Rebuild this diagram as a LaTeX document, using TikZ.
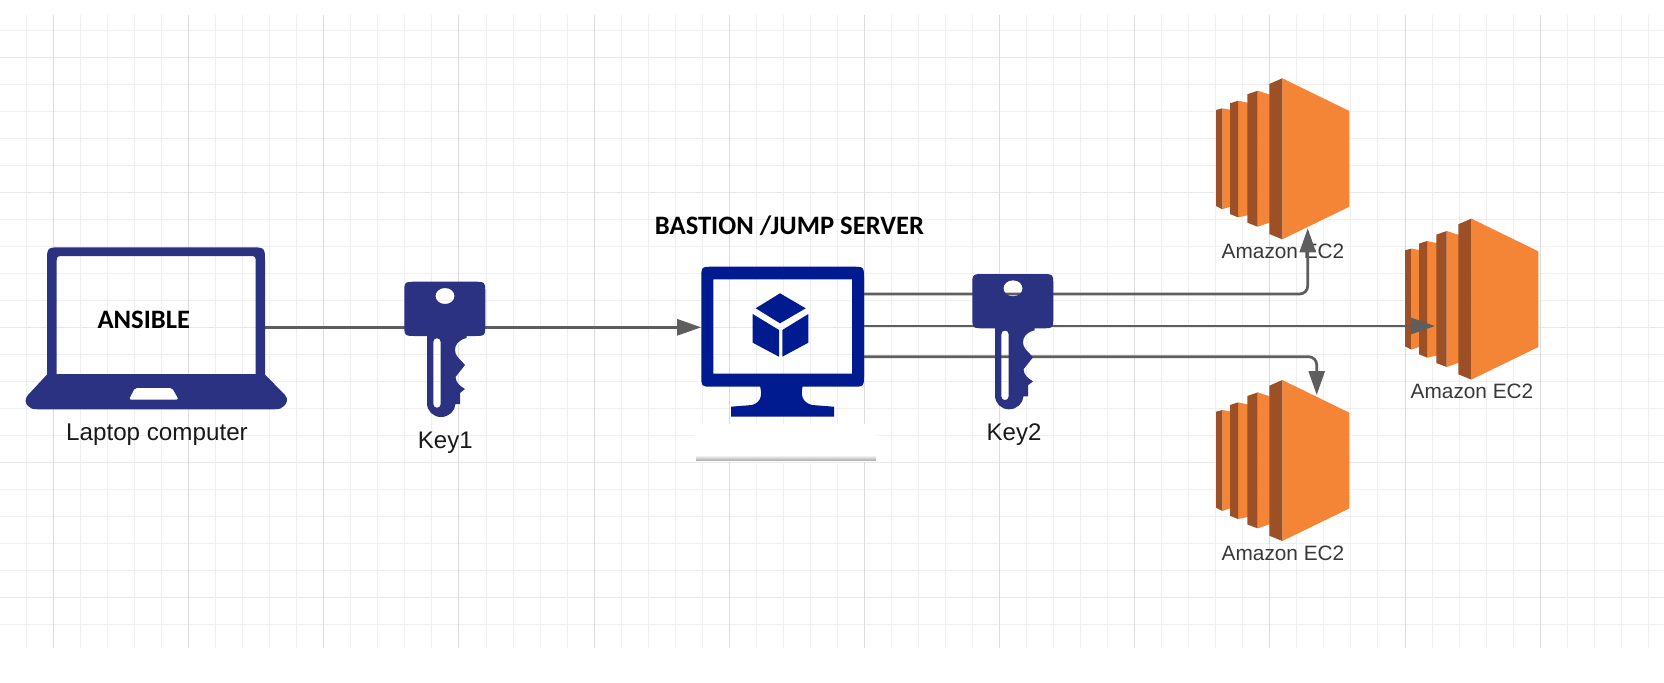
\documentclass[tikz,border=0pt]{standalone}
\usepackage{fontspec}
\setmainfont{Liberation Sans}
\newfontfamily\boldcal[BoldFont={Carlito Bold}]{Carlito}
\usetikzlibrary{arrows.meta}
\definecolor{navy}{HTML}{2A3281}
\definecolor{deepblue}{HTML}{001A8F}
\definecolor{ecl}{HTML}{F58536}
\definecolor{ecd}{HTML}{9D5025}
\definecolor{conn}{HTML}{5E5E5E}
\definecolor{gridmin}{HTML}{EFEFEF}
\definecolor{gridmaj}{HTML}{DCDCDC}
\definecolor{gridmajh}{HTML}{E8E8E8}
\tikzset{
  anchorbox/.style={inner sep=0pt,outer sep=0pt,draw=none},
  connector/.style={draw=conn,line width=1.35pt,rounded corners=4pt,
    -{Triangle[length=12pt,width=8pt,fill=conn]}},
  lbl/.style={anchor=base,inner sep=0pt,text=black!90},
  eclbl/.style={anchor=base,inner sep=0pt,text=black!78,font=\fontsize{10.4}{12}\selectfont},
  headlbl/.style={anchor=base,inner sep=0pt,text=black,font=\boldcal\bfseries\fontsize{13.3}{16}\selectfont},
}
\newcommand{\keyicon}{%
  \fill[navy,even odd rule]
    (416.3,281.7) -- (473.3,281.7) .. controls (485.3,281.7) .. (485.3,293.7)
    -- (485.3,324) .. controls (485.3,336) .. (473.3,336)
    -- (416.3,336) .. controls (404.3,336) .. (404.3,324)
    -- (404.3,293.7) .. controls (404.3,281.7) .. (416.3,281.7) -- cycle
    (445,288) .. controls (451,288) and (454.5,292) .. (454.5,296)
      .. controls (454.5,300) and (451,304) .. (445,304)
      .. controls (439,304) and (435.5,300) .. (435.5,296)
      .. controls (435.5,292) and (439,288) .. (445,288) -- cycle;
  \fill[navy,even odd rule]
    (427,335) -- (466.7,335) -- (466.7,338)
    .. controls (458,340) and (455,345) .. (455,350)
    .. controls (455,356) and (459,358) .. (465,365)
    -- (455.5,377)
    .. controls (456,383) and (460,386) .. (465,389)
    -- (460,393) -- (460,404) -- (455.5,404)
    .. controls (455,411) and (449,417) .. (441,417)
    .. controls (433,417) and (427,411) .. (427,403) -- cycle
    (433.3,342) .. controls (433.3,337) and (440.7,337) .. (440.7,342)
    -- (440.7,404) .. controls (440.7,409) and (433.3,409) .. (433.3,404) -- cycle;
}
\newcommand{\ecicon}{%
  \fill[ecl] (1222.3,108.3) -- (1232,110) -- (1232,206) -- (1222.3,209.3) -- cycle;
  \fill[ecd] (1216,110) -- (1222.3,108.3) -- (1222.3,209.3) -- (1216,206) -- cycle;
  \fill[ecl] (1238,100.7) -- (1249,103) -- (1249,215) -- (1238,217.3) -- cycle;
  \fill[ecd] (1230,103.3) -- (1238,100.7) -- (1238,217.3) -- (1230,214) -- cycle;
  \fill[ecl] (1257.7,90.7) -- (1271,95) -- (1271,222) -- (1257.7,226.7) -- cycle;
  \fill[ecd] (1247.3,94.3) -- (1257.7,90.7) -- (1257.7,226.7) -- (1247.3,222.7) -- cycle;
  \fill[ecl] (1282.3,78.3) -- (1349.3,111) -- (1349.3,206.7) -- (1282.3,239.3) -- cycle;
  \fill[ecd] (1269.3,84) -- (1282.3,78.3) -- (1282.3,239.3) -- (1269.3,234) -- cycle;
}
\begin{document}
\begin{tikzpicture}[x=0.5pt,y=-0.5pt]
\useasboundingbox (0,0) rectangle (1664,682);
\fill[white] (0,0) rectangle (1664,682);
% grid
\foreach \k in {0,...,22}{
  \pgfmathsetmacro{\yy}{floor(30.5+27*\k)+0.5}
  \pgfmathtruncatemacro{\mm}{mod(\k,5)}
  \ifnum\mm=1 \draw[gridmajh,line width=0.6pt] (0,\yy) -- (1664,\yy);
  \else \draw[gridmin,line width=0.5pt] (0,\yy) -- (1664,\yy); \fi
}
\foreach \k in {0,...,60}{
  \pgfmathsetmacro{\xx}{floor(26.5+27.03*\k)+0.5}
  \pgfmathtruncatemacro{\mm}{mod(\k,5)}
  \ifnum\mm=1 \draw[gridmaj,line width=0.6pt] (\xx,15) -- (\xx,648);
  \else \draw[gridmin,line width=0.5pt] (\xx,15) -- (\xx,648); \fi
}
% white patch below the monitor
\fill[white] (702,424) rectangle (865,436);
\fill[white] (695,435) rectangle (876,462);
\shade[top color=white,bottom color=black!30] (696,455) rectangle (876,460);
% anchor nodes
\node[anchorbox,minimum width=109pt,minimum height=60pt] (laptop) at (156,327.3) {};
\node[anchorbox,minimum width=81.5pt,minimum height=60pt] (monitor) at (782.7,327.3) {};
\coordinate (outA) at (864,294);
\coordinate (outB) at (864,326);
\coordinate (outC) at (864,356.7);
\coordinate (cornerA) at (1307.7,294);
\coordinate (tipA) at (1307.7,228.3);
\coordinate (tipB) at (1435,326);
\coordinate (cornerC) at (1316.7,356.7);
\coordinate (tipC) at (1316.7,395);
% EC2 icons
\ecicon
\begin{scope}[shift={(189,140.3)}]\ecicon\end{scope}
\begin{scope}[shift={(0,301.7)}]\ecicon\end{scope}
\node[eclbl] (lblA) at (1283,258.3) {Amazon EC2};
\node[eclbl] (lblB) at (1472,398.7) {Amazon EC2};
\node[eclbl] (lblC) at (1283,560) {Amazon EC2};
% connectors
\draw[connector] (laptop.east) -- (monitor.west);
\draw[connector] (outA) -- (cornerA) -- (tipA);
\draw[connector] (outB) -- (tipB);
\draw[connector] (outC) -- (cornerC) -- (tipC);
% keys
\keyicon
\begin{scope}[shift={(568,-7.7)}]\keyicon\end{scope}
% laptop
\fill[navy,even odd rule]
  (47,380) -- (47,262) .. controls (47,247.3) .. (62,247.3)
  -- (250,247.3) .. controls (265,247.3) .. (265,262) -- (265,380) -- cycle
  (56.7,374) -- (56.7,263) .. controls (56.7,256) .. (63.7,256)
  -- (248.7,256) .. controls (255.7,256) .. (255.7,263) -- (255.7,374) -- cycle;
\fill[navy]
  (47.5,374) -- (264.5,374) -- (285,395)
  .. controls (288.5,399) and (287,403) .. (284,406)
  .. controls (282,408.5) and (279,409.3) .. (274,409.3)
  -- (38,409.3)
  .. controls (33,409.3) and (30,408.5) .. (28,406)
  .. controls (25,403) and (24.5,399) .. (28,395) -- cycle;
\fill[white,rounded corners=1pt]
  (135,388) -- (172,388) -- (178.5,399.5) -- (129,399.5) -- cycle;
% monitor
\fill[deepblue,even odd rule]
  (713.3,266.7) -- (852,266.7) .. controls (864,266.7) .. (864,278.7)
  -- (864,374.7) .. controls (864,386.7) .. (852,386.7)
  -- (713.3,386.7) .. controls (701.3,386.7) .. (701.3,374.7)
  -- (701.3,278.7) .. controls (701.3,266.7) .. (713.3,266.7) -- cycle
  (713.3,279.3) -- (852,279.3) -- (852,373.7) -- (713.3,373.7) -- cycle;
\fill[deepblue]
  (760,386) .. controls (762,394) and (762,402) .. (752,405) -- (731,406.7) -- (731,416.7) -- (834,416.7)
  -- (834,406.7) -- (812,405) .. controls (801,402) and (801,394) .. (802.7,386) -- cycle;
\fill[deepblue] (780,293.3) -- (805.7,308.3) -- (780,323.3) -- (755.7,308.3) -- cycle;
\fill[deepblue] (752.7,314) -- (779,330) -- (779,356.7) -- (752.7,342.7) -- cycle;
\fill[deepblue] (808.3,314) -- (782.3,330) -- (782.3,356.7) -- (808.3,342.7) -- cycle;
% labels
\node[headlbl] (ansible) at (143.8,328.3) {ANSIBLE};
\node[headlbl] (bastion) at (789.5,234) {BASTION /JUMP SERVER};
\node[lbl,font=\fontsize{12.1}{14}\selectfont] (lap) at (157,440) {Laptop computer};
\node[lbl,font=\fontsize{12}{14}\selectfont] (k1) at (445.3,448.3) {Key1};
\node[lbl,font=\fontsize{12}{14}\selectfont] (k2) at (1014,440.7) {Key2};
\end{tikzpicture}
\end{document}
